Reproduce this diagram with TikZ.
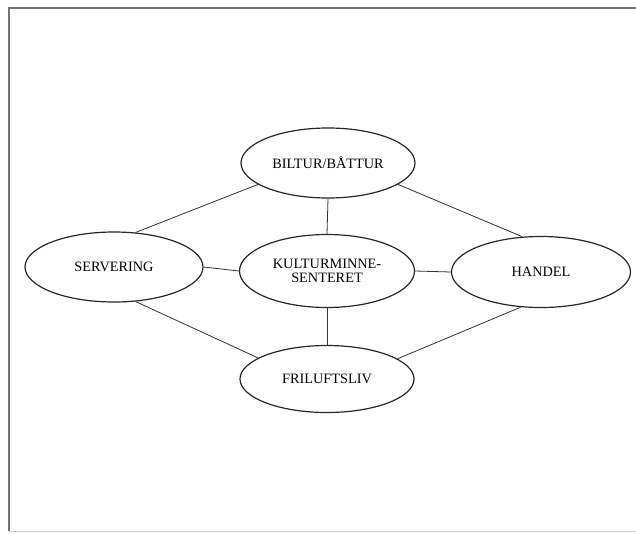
\documentclass[tikz,border=0pt]{standalone}
\usepackage{fontspec}
\setmainfont{Liberation Serif}
\usetikzlibrary{shapes.geometric}

\tikzset{
  bubble/.style={draw=black!85, line width=1.2pt, ellipse, inner sep=0pt,
    minimum width=175pt, minimum height=70pt, align=center,
    font=\fontsize{14.3}{13.5}\selectfont},
  link/.style={draw=black!80, line width=0.8pt}
}

\begin{document}
\begin{tikzpicture}[x=1pt,y=-1pt]
\useasboundingbox (0,0) rectangle (636,533);
\draw[black!55,line width=1.4pt] (636,8) -- (9,8) -- (9,531); % edit here for the frame
\draw[black!20,line width=1pt] (9,531) -- (636,531);
% the five ellipses
\node[bubble,minimum width=174pt] (bil) at (328,163) {BILTUR/BÅTTUR};
\node[bubble,minimum width=178pt] (serv) at (114,267) {SERVERING};
\node[bubble,minimum height=73pt] (kul) at (327,271) {KULTURMINNE-\\SENTERET};
\node[bubble,minimum width=179pt,minimum height=71pt] (hand) at (541,272) {HANDEL};
\node[bubble,minimum width=174pt,minimum height=67pt] (fri) at (327,379) {FRILUFTSLIV};
% the lines between them
\draw[link] (bil.south) -- (kul.north);
\draw[link] (kul.south) -- (fri.north);
\draw[link] (serv.east) -- (kul.west);
\draw[link] (kul.east) -- (hand.west);
\draw[link] (bil.197) -- (serv.58);
\draw[link] (bil.343) -- (hand.118);
\draw[link] (serv.302) -- (fri.163);
\draw[link] (fri.16) -- (hand.240);
\end{tikzpicture}
\end{document}
